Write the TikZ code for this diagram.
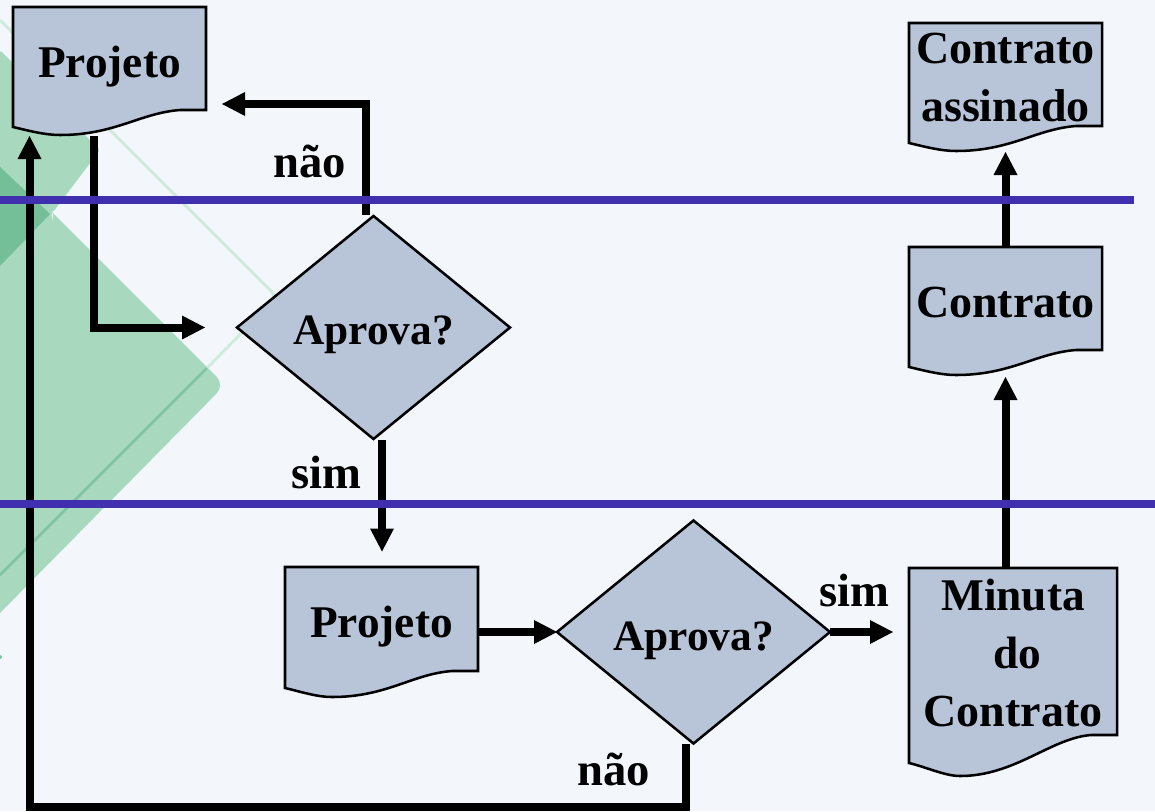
\documentclass[tikz,border=0pt]{standalone}
\usepackage{fontspec}
\setmainfont{Liberation Serif}
\usetikzlibrary{arrows.meta,shapes.geometric,calc}
\definecolor{pagebg}{HTML}{F3F7FC}
\definecolor{shapefill}{HTML}{B8C4D8}
\definecolor{bandblue}{HTML}{4030B0}
\definecolor{greenlight}{HTML}{A8D8BE}
\definecolor{greendark}{HTML}{74BE98}
\definecolor{greenthin}{HTML}{CFEBDC}
\definecolor{greenline}{HTML}{80C4A2}
\newcommand{\txtlift}[2]{\raisebox{#1}[0pt][0pt]{\begin{tabular}[t]{@{}c@{}}#2\end{tabular}}}
% name, x0, ytop, x1, ybottom-right, left drop, lowest drop, lowest x, text
\newcommand{\docshape}[9]{%
  \draw[docline] (#2,#3) -- (#4,#3) -- (#4,#5) -- ({#4-26},#5)
    .. controls ({#4-66},{#5+3}) and ({#8+55},{#5+#7}) .. (#8,{#5+#7})
    .. controls ({#8-15},{#5+#7}) and ({#2+17},{#5+#6+4}) .. (#2,{#5+#6}) -- cycle;
  \node[docbody,minimum width={(#4-#2)*0.75pt},minimum height={(#5-#3)*0.75pt}] (#1) at ({(#2+#4)/2},{(#3+#5)/2}) {#9};%
}
\tikzset{
  x=0.75pt,y=-0.75pt,
  docline/.style={draw=black,line width=1.9pt,fill=shapefill,line join=miter},
  docbody/.style={inner sep=0pt,outer sep=0pt,font=\fontsize{34}{43.5}\selectfont\bfseries,text=black},
  decision/.style={diamond,draw=black,line width=1.9pt,fill=shapefill,inner sep=0pt,outer sep=0pt,
    minimum width=204.75pt,minimum height=167.25pt,aspect=1.22,font=\fontsize{32.5}{43.5}\selectfont\bfseries},
  flowlabel/.style={anchor=base,inner sep=0pt,font=\fontsize{35}{43.5}\selectfont\bfseries},
  conn/.style={draw=black,line width=6pt,line join=miter,-{Triangle[length=17.25pt,width=18pt,line width=0pt]}},
  band/.style={draw=bandblue,line width=6pt},
}
\begin{document}
\begin{tikzpicture}
\useasboundingbox (0,0) rectangle (1155,811);
\fill[pagebg] (0,0) rectangle (1155,811);
% background decoration
\fill[greenlight,rounded corners=2pt] (0,50) -- (100,150) -- (53,212) -- (0,212) -- cycle;
\fill[greenlight] (0,200) -- (53,212) -- (0,300) -- cycle;
\begin{scope}[rounded corners=9pt]
\fill[greenlight] (0,150) -- (53,212) [sharp corners] -- (53,213) [rounded corners=9pt] -- (225,385) [sharp corners] -- (0,613) -- cycle;
\end{scope}
\fill[greendark] (0,167) -- (50,214) -- (0,266) -- cycle;
\draw[greenthin,line width=2.2pt,rounded corners=6pt] (0,20) -- (277,297) -- (207,368);
\draw[greenline,line width=1.9pt] (207,368) -- (0,575);
\fill[greenline] (0,657) circle (1.5pt);
% nodes
\docshape{pa}{13}{7}{206}{110}{17}{25}{60}{\txtlift{-13.9pt}{Projeto}}
\docshape{pb}{285}{567}{478}{671}{17}{26}{332}{\txtlift{-13.5pt}{Projeto}}
\docshape{ca}{909}{23}{1102}{126}{17}{25}{956}{\txtlift{7.9pt}{\fontsize{34.5}{43.5}\selectfont Contrato\\\fontsize{34.5}{43.5}\selectfont assinado}}
\docshape{cb}{909}{247}{1102}{350}{17}{25}{956}{\txtlift{-13.9pt}{\fontsize{34.5}{43.5}\selectfont Contrato}}
\docshape{mc}{909}{568}{1117}{735}{28}{41}{960}{\txtlift{30.4pt}{Minuta\\\hspace{6pt}do\\\fontsize{34.5}{43.5}\selectfont Contrato}}
\node[decision] (da) at (373.5,327.5) {\txtlift{-13.1pt}{Aprova?}};
\node[decision] (db) at (693.5,632) {\txtlift{-13.5pt}{Aprova?}};
% labels
\node[flowlabel] (lnaoa) at (310,177) {não};
\node[flowlabel] (lsima) at (326,488) {sim};
\node[flowlabel] (lnaob) at (614,785) {não};
\node[flowlabel] (lsimb) at (854,606) {sim};
% connector ends
\coordinate (paout) at (93.5,136);
\coordinate (dain) at (205,327.5);
\coordinate (daup) at (365.5,215);
\coordinate (pain) at (222,104);
\coordinate (dadown) at (382,440);
\coordinate (pbin) at (382,551.5);
\coordinate (mcin) at (893,632);
\coordinate (cbin) at (1005.5,377);
\coordinate (cain) at (1005.5,152);
\coordinate (dbdown) at (685.5,744);
\coordinate (rowb) at (685.5,807);
\coordinate (pareturn) at (29.5,136);
% connectors
\draw[conn] (paout) |- (dain);
\draw[conn] (daup) |- (pain);
\draw[conn] (dadown) -- (pbin);
\draw[conn] (pb.east |- db.west) -- (db.west);
\draw[conn] (db.east) -- (mcin);
\draw[conn] (cbin |- mc.north) -- (cbin);
\draw[conn] (cb.north) -- (cain);
\draw[conn] (dbdown) -- (rowb) -- (rowb -| pareturn) -- (pareturn);
% swimlane bands
\coordinate (bandaL) at (0,200);
\coordinate (bandaR) at (1134,200);
\coordinate (bandbL) at (0,504);
\coordinate (bandbR) at (1155,504);
\draw[band] (bandaL) -- (bandaR);
\draw[band] (bandbL) -- (bandbR);
\end{tikzpicture}
\end{document}
